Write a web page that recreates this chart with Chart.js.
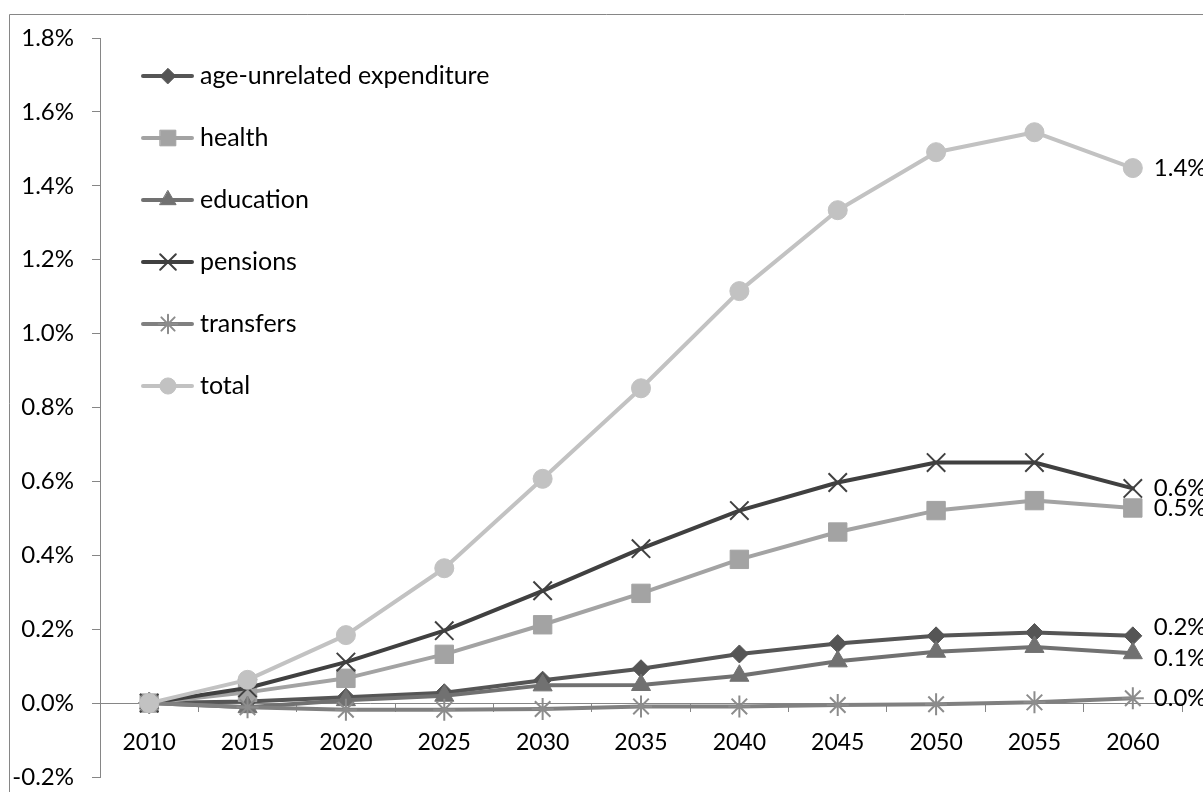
<!DOCTYPE html>
<html>
<head>
<meta charset="utf-8">
<script src="https://cdn.jsdelivr.net/npm/chart.js@4/dist/chart.umd.min.js"></script>
<style>
html,body{margin:0;padding:0;background:#fff;overflow:hidden}
#wrap{position:relative;width:1203px;height:792px}
</style>
</head>
<body>
<div id="wrap"><canvas id="c" width="1203" height="792"></canvas></div>
<script>
// ---- data (percentage points) ----
const years = ['2010','2015','2020','2025','2030','2035','2040','2045','2050','2055','2060'];
const ageUnrelated = [0, 0.004, 0.016, 0.028, 0.062, 0.093, 0.133, 0.161, 0.182, 0.191, 0.182];
const health       = [0, 0.029, 0.067, 0.132, 0.212, 0.297, 0.389, 0.463, 0.521, 0.548, 0.528];
const education    = [0, -0.011, 0.008, 0.020, 0.048, 0.049, 0.074, 0.113, 0.139, 0.152, 0.135];
const pensions     = [0, 0.041, 0.111, 0.196, 0.304, 0.418, 0.521, 0.597, 0.651, 0.651, 0.581];
const transfers    = [0, -0.011, -0.018, -0.018, -0.016, -0.009, -0.009, -0.005, -0.003, 0.002, 0.013];
const total        = [0, 0.063, 0.184, 0.365, 0.607, 0.852, 1.115, 1.334, 1.491, 1.545, 1.448];
const seriesNames  = ['age-unrelated expenditure','health','education','pensions','transfers','total'];
const yMin = -0.2, yMax = 1.8, yStep = 0.2;

const FONT = 'Lato';
const AXIS = '#868686';

function ds(label, data, color, pointStyle, radius, order, extra) {
  return Object.assign({
    label, data,
    borderColor: color, backgroundColor: color,
    pointBackgroundColor: color, pointBorderColor: color,
    pointStyle, pointRadius: radius, pointHoverRadius: radius,
    pointBorderWidth: 1, borderWidth: 4, tension: 0,
    borderCapStyle: 'round', borderJoinStyle: 'round',
    order, labelDy: 0
  }, extra || {});
}

const datasets = [
  ds(seriesNames[0], ageUnrelated, '#555555', 'rectRot', 9, 6, {labelDy: -9}),
  ds(seriesNames[1], health, '#a3a3a3', 'rect', 13, 5, {}),
  ds(seriesNames[2], education, '#717171', 'triangle', 11, 4, {labelDy: 5}),
  ds(seriesNames[3], pensions, '#404040', 'crossRot', 13, 3, {pointBorderWidth: 2}),
  ds(seriesNames[4], transfers, '#808080', 'star', 11, 2, {pointBorderWidth: 2, pointBorderColor: '#8c8c8c'}),
  ds(seriesNames[5], total, '#c2c2c2', 'circle', 9.5, 1, {})
];

const framePlugin = {
  id: 'frame',
  beforeDraw(chart) {
    const ctx = chart.ctx;
    ctx.save();
    ctx.fillStyle = '#fff';
    ctx.fillRect(0, 0, chart.width, chart.height);
    ctx.strokeStyle = AXIS;
    ctx.lineWidth = 1;
    ctx.beginPath();
    ctx.moveTo(9.5, chart.height);
    ctx.lineTo(9.5, 14.5);
    ctx.lineTo(chart.width, 14.5);
    ctx.stroke();
    ctx.restore();
  }
};

const legendPlugin = {
  id: 'insideLegend',
  afterDatasetsDraw(chart) {
    const ctx = chart.ctx;
    ctx.save();
    chart.data.datasets.forEach((d, i) => {
      const y = 76 + i * 62;
      ctx.strokeStyle = d.borderColor;
      ctx.lineWidth = 4;
      ctx.lineCap = 'round';
      ctx.beginPath();
      ctx.moveTo(143, y);
      ctx.lineTo(192, y);
      ctx.stroke();
      ctx.fillStyle = d.pointBackgroundColor;
      ctx.strokeStyle = d.pointBorderColor;
      ctx.lineWidth = d.pointBorderWidth;
      Chart.helpers.drawPoint(ctx, {pointStyle: d.pointStyle, radius: d.pointRadius * 0.85, rotation: 0, borderWidth: d.pointBorderWidth}, 168, y);
      ctx.fillStyle = '#000';
      ctx.font = '25px ' + FONT;
      ctx.textAlign = 'left';
      ctx.textBaseline = 'middle';
      ctx.fillText(d.label, 200, y);
    });
    ctx.restore();
  }
};

const endLabelPlugin = {
  id: 'endLabels',
  afterDatasetsDraw(chart) {
    const ctx = chart.ctx;
    ctx.save();
    ctx.fillStyle = '#000';
    ctx.font = '24px ' + FONT;
    ctx.textAlign = 'left';
    ctx.textBaseline = 'middle';
    chart.data.datasets.forEach((d, i) => {
      const meta = chart.getDatasetMeta(i);
      const pt = meta.data[meta.data.length - 1];
      const v = d.data[d.data.length - 1];
      ctx.fillText(v.toFixed(1) + '%', pt.x + 21, pt.y + (d.labelDy || 0));
    });
    ctx.restore();
  }
};

new Chart(document.getElementById('c'), {
  type: 'line',
  data: { labels: years, datasets },
  options: {
    responsive: false,
    animation: false,
    devicePixelRatio: 1,
    layout: { padding: { left: 0, top: 38, right: 21, bottom: 9 } },
    plugins: { legend: { display: false }, tooltip: { enabled: false } },
    scales: {
      x: {
        type: 'category',
        position: { y: 0 },
        offset: true,
        grid: { display: true, drawOnChartArea: false, drawTicks: true, tickLength: 8, color: AXIS, offset: true },
        border: { display: true, color: AXIS, width: 1 },
        ticks: { color: '#000', font: { family: FONT, size: 23 }, padding: 18, maxRotation: 0, autoSkip: false }
      },
      y: {
        min: yMin, max: yMax,
        grid: { display: true, drawOnChartArea: false, drawTicks: true, tickLength: 8, color: AXIS },
        border: { display: true, color: AXIS, width: 1 },
        ticks: {
          stepSize: yStep, color: '#000', font: { family: FONT, size: 24 }, padding: 18,
          callback: v => v.toFixed(1) + '%'
        },
        afterFit(scale) { scale.width = 100; scale.paddingTop = 0; scale.paddingBottom = 0; }
      }
    }
  },
  plugins: [framePlugin, legendPlugin, endLabelPlugin]
});
</script>
</body>
</html>
